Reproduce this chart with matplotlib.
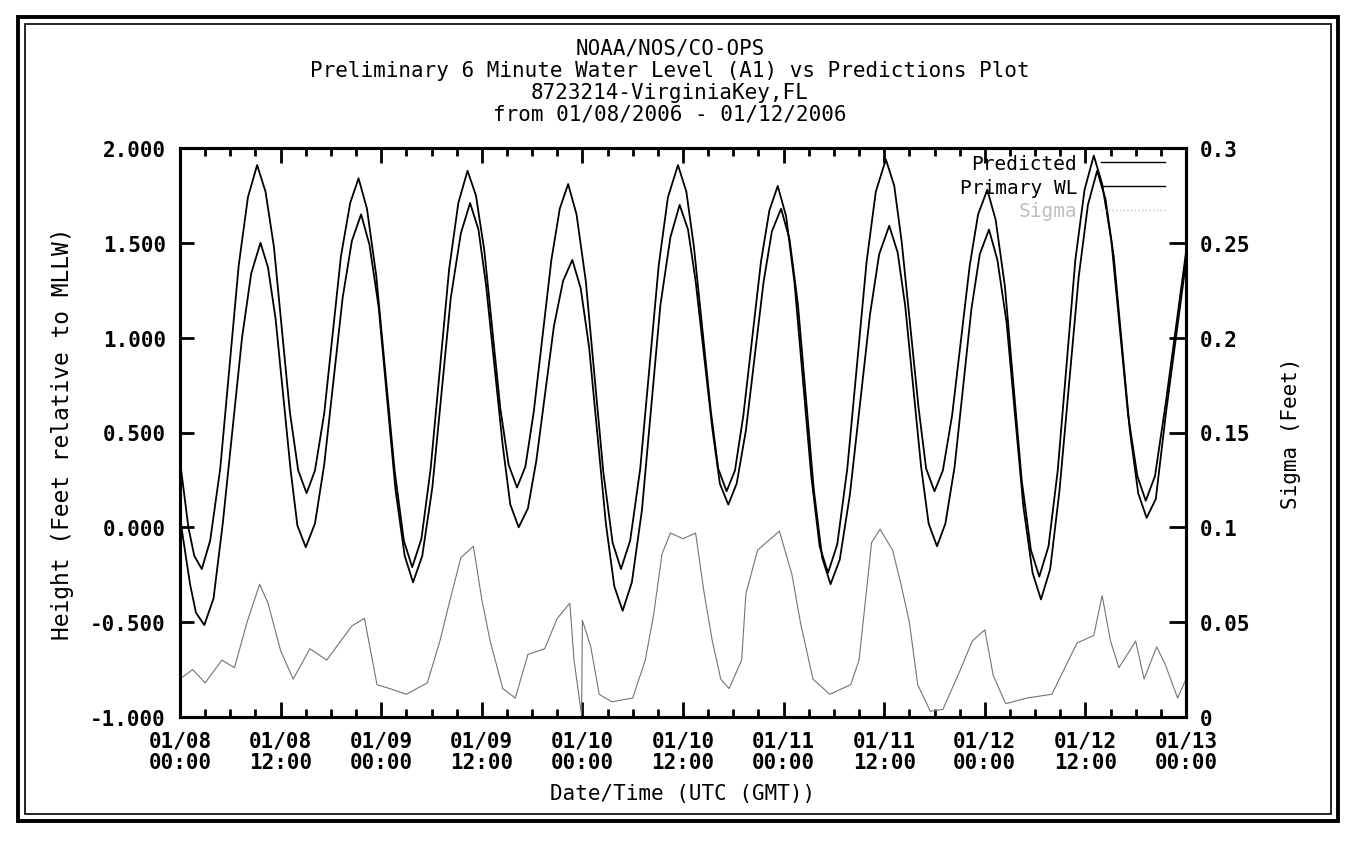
import matplotlib.pyplot as plt
from matplotlib.patches import Rectangle
from matplotlib.ticker import MultipleLocator, FixedLocator
from matplotlib.lines import Line2D

plt.rcParams['font.family'] = ['DejaVu Sans Mono', 'DejaVu Sans']

# hours since 01/08/2006 00:00 UTC, heights in feet rel. to MLLW
pred_hours = [0.0, 1.0, 1.7, 2.6, 3.6, 4.8, 7.0, 8.1, 9.2, 10.2, 11.2, 13.1, 14.1, 15.1,
              16.1, 17.2, 19.2, 20.3, 21.3, 22.3, 23.4, 25.6, 26.7, 27.7, 28.8, 29.9,
              32.1, 33.2, 34.3, 35.3, 36.3, 38.2, 39.2, 40.2, 41.2, 42.2, 44.3, 45.3,
              46.3, 47.3, 48.4, 50.5, 51.6, 52.6, 53.7, 54.9, 57.1, 58.2, 59.4, 60.4,
              61.3, 63.3, 64.2, 65.2, 66.2, 67.2, 69.3, 70.3, 71.3, 72.3, 73.3, 75.3,
              76.3, 77.3, 78.4, 79.6, 81.9, 83.0, 84.2, 85.2, 86.1, 88.1, 89.0, 90.0,
              91.0, 92.1, 94.2, 95.2, 96.3, 97.3, 98.4, 100.4, 101.5, 102.5, 103.6, 104.7,
              106.8, 107.9, 109.0, 110.0, 111.1, 113.1, 114.2, 115.2, 116.3, 117.6, 120.0]
pred_height = [0.35, 0.00, -0.15, -0.22, -0.07, 0.31, 1.38, 1.74, 1.91, 1.77, 1.48, 0.61, 0.30, 0.18,
               0.30, 0.60, 1.43, 1.71, 1.84, 1.68, 1.33, 0.30, -0.07, -0.21, -0.06, 0.31,
               1.36, 1.71, 1.88, 1.75, 1.46, 0.63, 0.33, 0.21, 0.32, 0.61, 1.41, 1.68,
               1.81, 1.65, 1.30, 0.29, -0.08, -0.22, -0.07, 0.31, 1.38, 1.74, 1.91, 1.77,
               1.48, 0.62, 0.31, 0.19, 0.30, 0.59, 1.40, 1.67, 1.80, 1.64, 1.29, 0.27,
               -0.10, -0.24, -0.09, 0.31, 1.40, 1.77, 1.94, 1.80, 1.50, 0.63, 0.31, 0.19,
               0.30, 0.59, 1.38, 1.65, 1.78, 1.62, 1.27, 0.25, -0.12, -0.26, -0.10, 0.30,
               1.41, 1.78, 1.96, 1.81, 1.51, 0.59, 0.27, 0.14, 0.27, 0.66, 1.45]

obs_hours = [0.0, 1.2, 1.9, 2.9, 4.0, 5.1, 7.4, 8.5, 9.6, 10.5, 11.4, 13.2, 14.0, 15.0,
             16.1, 17.2, 19.4, 20.5, 21.6, 22.6, 23.7, 25.7, 26.8, 27.8, 28.9, 30.1,
             32.3, 33.5, 34.6, 35.6, 36.5, 38.5, 39.4, 40.4, 41.5, 42.5, 44.6, 45.7,
             46.8, 47.8, 48.8, 50.8, 51.8, 52.8, 53.9, 55.1, 57.3, 58.5, 59.6, 60.6,
             61.5, 63.5, 64.4, 65.4, 66.4, 67.5, 69.6, 70.6, 71.7, 72.7, 73.7, 75.6,
             76.6, 77.6, 78.7, 79.9, 82.3, 83.4, 84.6, 85.6, 86.5, 88.4, 89.3, 90.3,
             91.3, 92.4, 94.4, 95.4, 96.5, 97.5, 98.6, 100.6, 101.7, 102.7, 103.8, 104.9,
             107.2, 108.3, 109.4, 110.4, 111.4, 113.3, 114.3, 115.3, 116.4, 117.6, 120.0]
obs_height = [0.05, -0.30, -0.45, -0.515, -0.375, 0.02, 1.00, 1.34, 1.50, 1.37, 1.10, 0.30, 0.01, -0.105,
              0.02, 0.33, 1.21, 1.51, 1.65, 1.49, 1.16, 0.20, -0.15, -0.29, -0.15, 0.21,
              1.21, 1.55, 1.71, 1.57, 1.28, 0.43, 0.12, 0.00, 0.10, 0.35, 1.06, 1.30,
              1.41, 1.26, 0.95, 0.02, -0.31, -0.44, -0.29, 0.09, 1.17, 1.53, 1.70, 1.57,
              1.30, 0.52, 0.23, 0.12, 0.23, 0.51, 1.29, 1.56, 1.68, 1.52, 1.18, 0.20,
              -0.16, -0.30, -0.17, 0.17, 1.12, 1.44, 1.59, 1.45, 1.17, 0.32, 0.02, -0.10,
              0.02, 0.32, 1.15, 1.44, 1.57, 1.41, 1.08, 0.11, -0.24, -0.38, -0.22, 0.19,
              1.32, 1.70, 1.88, 1.73, 1.42, 0.51, 0.18, 0.05, 0.15, 0.60, 1.40]

sigma_hours = [0.0, 1.5, 3.0, 5.0, 6.5, 8.0, 9.5, 10.5, 12.0, 13.5, 15.5, 17.5,
               20.5, 22.0, 23.5, 25.0, 27.0, 29.5, 31.0, 32.0, 33.5, 35.0, 36.0, 37.0,
               38.5, 40.0, 41.5, 43.5, 45.0, 46.5, 47.0, 47.9, 48.0, 49.0, 50.0, 51.5,
               54.0, 55.5, 56.5, 57.5, 58.5, 60.0, 61.5, 62.5, 63.5, 64.5, 65.5, 67.0,
               67.5, 68.9, 71.5, 73.0, 74.0, 75.5, 77.5, 80.0, 81.0, 82.5, 83.5, 85.0,
               86.0, 87.0, 88.0, 89.5, 91.0, 93.0, 94.5, 96.0, 97.0, 98.5, 101.0, 104.0,
               107.0, 109.0, 110.0, 111.0, 112.0, 114.0, 115.0, 116.5, 117.5, 119.0, 120.0]
sigma_ft = [0.020, 0.025, 0.018, 0.030, 0.026, 0.050, 0.070, 0.060, 0.035, 0.020, 0.036, 0.030,
            0.048, 0.052, 0.017, 0.015, 0.012, 0.018, 0.040, 0.058, 0.084, 0.090, 0.062, 0.040,
            0.015, 0.010, 0.033, 0.036, 0.052, 0.060, 0.030, 0.001, 0.051, 0.037, 0.012, 0.008,
            0.010, 0.030, 0.054, 0.086, 0.097, 0.094, 0.097, 0.066, 0.040, 0.020, 0.015, 0.030,
            0.065, 0.088, 0.098, 0.075, 0.050, 0.020, 0.012, 0.017, 0.030, 0.092, 0.099, 0.088,
            0.070, 0.050, 0.017, 0.003, 0.004, 0.024, 0.040, 0.046, 0.022, 0.007, 0.010, 0.012,
            0.039, 0.043, 0.064, 0.040, 0.026, 0.040, 0.020, 0.037, 0.028, 0.010, 0.020]

tick_hours = [0, 12, 24, 36, 48, 60, 72, 84, 96, 108, 120]
tick_labels = ['01/08\n00:00', '01/08\n12:00', '01/09\n00:00', '01/09\n12:00',
               '01/10\n00:00', '01/10\n12:00', '01/11\n00:00', '01/11\n12:00',
               '01/12\n00:00', '01/12\n12:00', '01/13\n00:00']
left_ticks = [-1.0, -0.5, 0.0, 0.5, 1.0, 1.5, 2.0]
right_ticks = [0, 0.05, 0.1, 0.15, 0.2, 0.25, 0.3]
right_labels = ['0', '0.05', '0.1', '0.15', '0.2', '0.25', '0.3']
title_lines = ['NOAA/NOS/CO-OPS',
               'Preliminary 6 Minute Water Level (A1) vs Predictions Plot',
               '8723214-VirginiaKey,FL',
               'from 01/08/2006 - 01/12/2006']

W, H = 1353, 854
fig = plt.figure(figsize=(W / 100, H / 100), dpi=100)
ax = fig.add_axes([180 / W, 1 - 718 / H, 1006 / W, 569 / H])

ax.plot(pred_hours, pred_height, color='black', lw=1.3)
ax.plot(obs_hours, obs_height, color='black', lw=1.3)
ax.set_xlim(0, 120)
ax.set_ylim(-1, 2)

ax.xaxis.set_major_locator(FixedLocator(tick_hours))
ax.set_xticklabels(tick_labels, fontsize=15, fontweight='bold', linespacing=1.05)
ax.xaxis.set_minor_locator(MultipleLocator(3))
ax.set_yticks(left_ticks)
ax.set_yticklabels(['%.3f' % v for v in left_ticks], fontsize=15, fontweight='bold')
ax.tick_params(axis='x', which='major', direction='in', length=11, width=2, top=True, pad=10)
ax.tick_params(axis='x', which='minor', direction='in', length=6, width=2, top=True)
ax.tick_params(axis='y', direction='in', length=10, width=2, right=False, pad=10)
for sp in ax.spines.values():
    sp.set_linewidth(2.2)

ax.set_ylabel('Height (Feet relative to MLLW)', fontsize=16.5, labelpad=12)
ax.set_xlabel('Date/Time (UTC (GMT))', fontsize=15, labelpad=8)

ax2 = ax.twinx()
ax2.plot(sigma_hours, sigma_ft, color='0.45', lw=0.8)
ax2.set_ylim(0, 0.3)
ax2.set_yticks(right_ticks)
ax2.set_yticklabels(right_labels, fontsize=15, fontweight='bold')
ax2.tick_params(axis='y', direction='in', length=12, width=2, pad=10)
ax2.set_ylabel('Sigma (Feet)', fontsize=15, labelpad=22)
for sp in ax2.spines.values():
    sp.set_linewidth(2.2)

handles = [Line2D([], [], color='black', lw=1.0),
           Line2D([], [], color='black', lw=1.0),
           Line2D([], [], color='0.75', lw=1.0, ls=':')]
leg = ax2.legend(handles, ['Predicted', 'Primary WL', 'Sigma'], loc='upper right',
                 bbox_to_anchor=(0.979, 0.99), markerfirst=False, frameon=False,
                 fontsize=14, handlelength=3.3, handletextpad=1.2, labelspacing=0.25,
                 borderpad=0, borderaxespad=0)
leg.get_texts()[2].set_color('0.75')

title_y = [49, 71, 93, 115]
for line, yp in zip(title_lines, title_y):
    fig.text(670 / W, 1 - yp / H, line, ha='center', va='center', fontsize=15)

# double border around the whole plot page
fig.add_artist(Rectangle((18 / W, 1 - 822 / H), 1320 / W, 804 / H, transform=fig.transFigure,
                         fill=False, lw=2.8, ec='black'))
fig.add_artist(Rectangle((25 / W, 1 - 815 / H), 1306 / W, 790 / H, transform=fig.transFigure,
                         fill=False, lw=1.2, ec='black'))

fig.savefig('out.png', dpi=100)
